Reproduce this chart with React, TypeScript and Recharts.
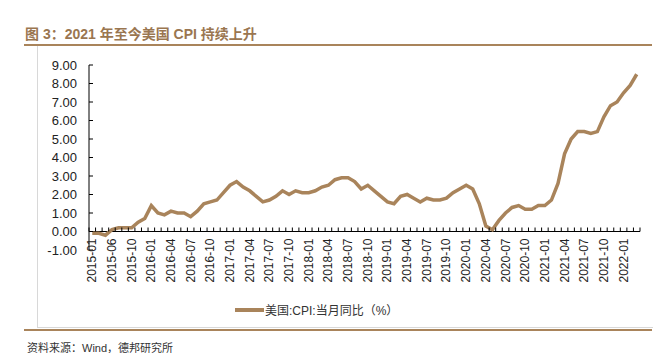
import { LineChart, Line, XAxis, YAxis, ReferenceLine } from "recharts";

// monthly categories, 2015-04 .. 2022-03
const months: string[] = [];
for (let i = 0; i < 84; i++) {
  const m = 3 + i;
  months.push(`${2015 + Math.floor(m / 12)}-${String((m % 12) + 1).padStart(2, "0")}`);
}

// 美国 CPI 当月同比 (%)
const cpi2015 = [-0.1, -0.1, -0.2, 0.1, 0.2, 0.2, 0.2, 0.5, 0.7];
const cpi2016 = [1.4, 1.0, 0.9, 1.1, 1.0, 1.0, 0.8, 1.1, 1.5, 1.6, 1.7, 2.1];
const cpi2017 = [2.5, 2.7, 2.4, 2.2, 1.9, 1.6, 1.7, 1.9, 2.2, 2.0, 2.2, 2.1];
const cpi2018 = [2.1, 2.2, 2.4, 2.5, 2.8, 2.9, 2.9, 2.7, 2.3, 2.5, 2.2, 1.9];
const cpi2019 = [1.6, 1.5, 1.9, 2.0, 1.8, 1.6, 1.8, 1.7, 1.7, 1.8, 2.1, 2.3];
const cpi2020 = [2.5, 2.3, 1.5, 0.3, 0.1, 0.6, 1.0, 1.3, 1.4, 1.2, 1.2, 1.4];
const cpi2021 = [1.4, 1.7, 2.6, 4.2, 5.0, 5.4, 5.4, 5.3, 5.4, 6.2, 6.8, 7.0];
const cpi2022 = [7.5, 7.9, 8.5];
const cpi = [...cpi2015, ...cpi2016, ...cpi2017, ...cpi2018, ...cpi2019, ...cpi2020, ...cpi2021, ...cpi2022];

// x labels as printed, one every third month
const tickLabels = [
  "2015-01", "2015-06", "2015-10",
  "2016-01", "2016-04", "2016-07", "2016-10",
  "2017-01", "2017-04", "2017-07", "2017-10",
  "2018-01", "2018-04", "2018-07", "2018-10",
  "2019-01", "2019-04", "2019-07", "2019-10",
  "2020-01", "2020-04", "2020-07", "2020-10",
  "2021-01", "2021-04", "2021-07", "2021-10",
  "2022-01",
];
const yTicks = [-1, 0, 1, 2, 3, 4, 5, 6, 7, 8, 9];

const data = months.map((m, i) => ({ month: m, cpi: cpi[i] }));

const BROWN = "#A9845B";
const PLOT_LEFT = 89;
const PLOT_W = 551;
const PLOT_TOP = 65;
const PLOT_H = 185;
const ZERO_Y = PLOT_TOP + PLOT_H * 0.9;
const STEP = PLOT_W / months.length;

function XTick(props: any) {
  const { x, payload } = props;
  const i = payload.index;
  const bx = x - STEP / 2;
  return (
    <g>
      <line x1={bx} x2={bx} y1={ZERO_Y} y2={ZERO_Y - 4} stroke="#000" />
      {i === months.length - 1 && (
        <line x1={x + STEP / 2} x2={x + STEP / 2} y1={ZERO_Y} y2={ZERO_Y - 4} stroke="#000" />
      )}
      {i % 3 === 0 && tickLabels[i / 3] && (
        <text
          transform={`translate(${x},${ZERO_Y + 7}) rotate(-90)`}
          textAnchor="end"
          dominantBaseline="central"
          fontSize={12}
          fill="#222"
        >
          {tickLabels[i / 3]}
        </text>
      )}
    </g>
  );
}

export default function App() {
  return (
    <div
      style={{
        position: "relative",
        width: 664,
        height: 353,
        background: "#fff",
        fontFamily: '"Liberation Sans", Arial, "Noto Sans CJK SC", sans-serif',
        overflow: "hidden",
      }}
    >
      <style>{"body{margin:0}"}</style>
      <div
        style={{
          position: "absolute",
          left: 25,
          top: 23,
          fontSize: 14,
          fontWeight: "bold",
          color: "#9A7650",
          whiteSpace: "nowrap",
        }}
      >
        图 3：2021 年至今美国 CPI 持续上升
      </div>
      <div style={{ position: "absolute", left: 24, top: 44, width: 628, height: 2, background: BROWN }} />
      <div
        style={{
          position: "absolute",
          left: 37,
          top: 46,
          width: 615,
          height: 281,
          borderLeft: "1px solid #d8d8d8",
          borderBottom: "1px solid #d8d8d8",
        }}
      />
      <div style={{ position: "absolute", left: 24, top: 329, width: 628, height: 2, background: BROWN }} />
      <div style={{ position: "absolute", left: 27, top: 339, fontSize: 11, color: "#333", whiteSpace: "nowrap" }}>
        资料来源：Wind，德邦研究所
      </div>

      <div style={{ position: "absolute", left: 0, top: 0 }}>
        <LineChart
          width={664}
          height={353}
          data={data}
          margin={{ top: PLOT_TOP, right: 664 - PLOT_LEFT - PLOT_W, bottom: 73, left: PLOT_LEFT - 50 }}
        >
          <XAxis
            dataKey="month"
            interval={0}
            axisLine={false}
            tickLine={false}
            tickSize={0}
            height={30}
            padding={{ left: STEP / 2, right: STEP / 2 }}
            tick={<XTick />}
          />
          <YAxis
            domain={[-1, 9]}
            ticks={yTicks}
            width={50}
            interval={0}
            axisLine={{ stroke: "#000" }}
            tickLine={{ stroke: "#000" }}
            tickSize={-4}
            tickMargin={16}
            tick={{ fontSize: 13, fill: "#222" }}
            tickFormatter={(v: number) => v.toFixed(2)}
          />
          <ReferenceLine y={0} stroke="#000" strokeWidth={1} />
          <Line
            type="linear"
            dataKey="cpi"
            stroke={BROWN}
            strokeWidth={3.5}
            dot={false}
            isAnimationActive={false}
          />
        </LineChart>
      </div>

      <div
        style={{
          position: "absolute",
          left: 235,
          top: 301,
          display: "flex",
          alignItems: "center",
          fontSize: 12,
          color: "#333",
          whiteSpace: "nowrap",
        }}
      >
        <span style={{ display: "inline-block", width: 29, height: 4, background: BROWN, marginRight: 1 }} />
        美国:CPI:当月同比（%）
      </div>
    </div>
  );
}
